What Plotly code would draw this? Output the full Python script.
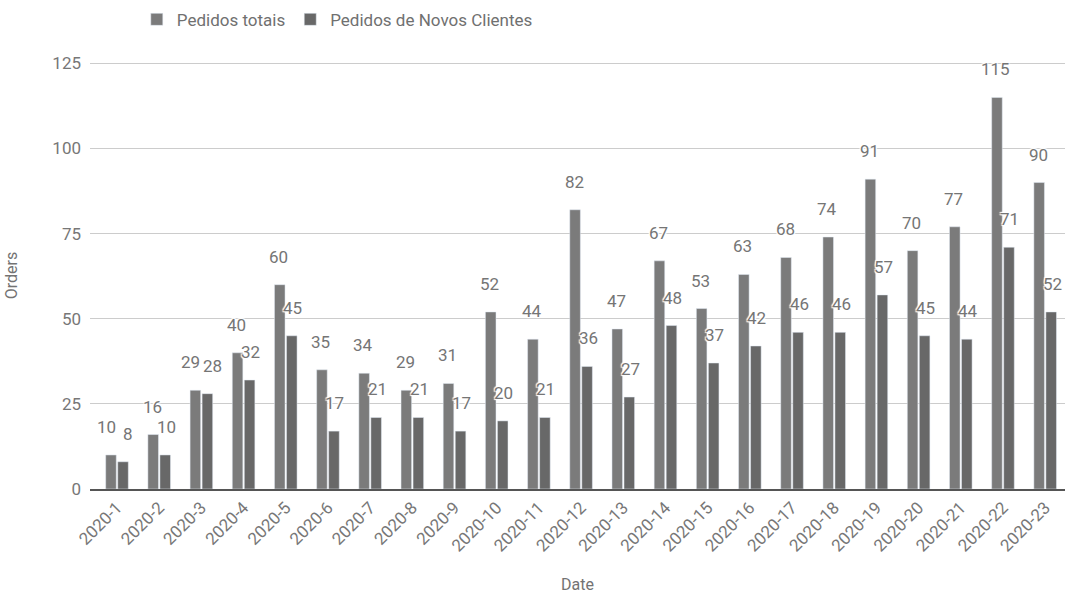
import plotly.graph_objects as go

dates = [f"2020-{i}" for i in range(1, 24)]
totais = [10, 16, 29, 40, 60, 35, 34, 29, 31, 52, 44, 82, 47, 67, 53, 63, 68, 74, 91, 70, 77, 115, 90]
novos = [8, 10, 28, 32, 45, 17, 21, 21, 17, 20, 21, 36, 27, 48, 37, 42, 46, 46, 57, 45, 44, 71, 52]

halo = "1px 1px 1px #fff, -1px -1px 1px #fff, 1px -1px 1px #fff, -1px 1px 1px #fff, 0 0 2px #fff"

fig = go.Figure()
fig.add_trace(go.Bar(x=dates, y=totais, name="Pedidos totais", marker_color="#7b7b7b"))
fig.add_trace(go.Bar(x=dates, y=novos, name="Pedidos de Novos Clientes", marker_color="#686868"))

for d, t, n in zip(dates, totais, novos):
    # spread the two labels a little when their heights are nearly equal
    spread = 4 if abs(t - n) < 4 else 0
    for v, dx in ((t, -7 - spread), (n, 7 + spread)):
        fig.add_annotation(x=d, y=v, text=str(v), showarrow=False, xshift=dx, yshift=28,
                           yanchor="middle", xanchor="center",
                           font=dict(size=17, color="#757575", shadow=halo))

fig.update_layout(
    width=1068, height=594,
    margin=dict(l=90, r=3, t=62, b=105),
    paper_bgcolor="white", plot_bgcolor="white",
    font=dict(family="Roboto", color="#737373", size=17),
    barmode="group", bargap=0.43, bargroupgap=0.12,
    showlegend=True,
    legend=dict(orientation="h", x=0.048, xanchor="left", y=0.997, yanchor="top",
                yref="container", font=dict(size=17, color="#707070"), itemwidth=30),
    xaxis=dict(type="category", range=[-0.64, 22.47], automargin=False,
               title=dict(text="Date", font=dict(size=16), standoff=28), tickangle=-45,
               tickfont=dict(size=17, color="#777"), showgrid=False, showline=True,
               linecolor="#555", linewidth=2),
    yaxis=dict(title=dict(text="Orders", font=dict(size=16), standoff=30), range=[0, 125.4],
               automargin=False,
               tickvals=[0, 25, 50, 75, 100, 125], gridcolor="#cccccc", zeroline=False,
               tickfont=dict(size=17, color="#777"), ticks="", ticklabelstandoff=8),
)
fig.write_html("out.html")
